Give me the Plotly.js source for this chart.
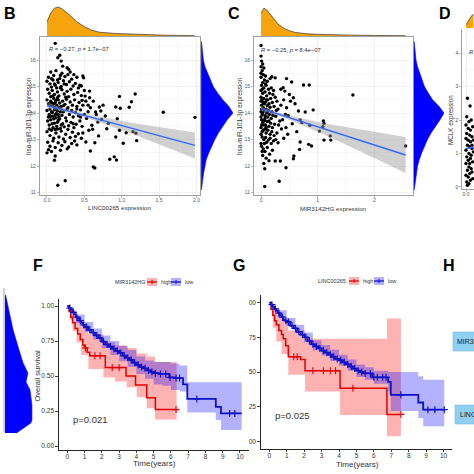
<!DOCTYPE html>
<html><head><meta charset="utf-8">
<script src="https://cdn.plot.ly/plotly-3.0.1.min.js"></script>
<style>html,body{margin:0;padding:0;background:#fff;overflow:hidden}#chart{width:474px;height:474px}</style>
</head><body><div id="chart"></div>
<script>
// ---------- Panel B: LINC00265 vs hsa-miR-101-3p ----------
const bX = [
0.11,0.145,0.244,1.556,1.98,0.97,1.18,1.13,1.10,0.92,
0.98,0.94,0.97,0.92,1.02,1.06,1.15,1.19,1.20,0.84,
0.90,0.93,0.62,0.64,0.58,0.57,0.57,0.78,0.72,0.70,
0.65,0.60,0.61,0.68,0.80,0.82,0.73,0.69,0.64,0.52,
0.49,0.48,0.46,0.51,0.29,0.27,0.19,0.17,0.145,0.21,
0.11,0.10,0.0,0.05,0.12,0.20,0.28,0.02,0.09,0.17,
0.24,0.33,0.40,0.0,0.04,0.08,0.11,0.15,0.19,0.22,
0.26,0.30,0.35,0.38,0.44,0.06,0.13,0.01,0.03,0.07,
0.10,0.14,0.16,0.20,0.23,0.27,0.29,0.32,0.36,0.41,
0.46,0.50,0.05,0.18,0.25,0.0,0.02,0.05,0.07,0.09,
0.11,0.13,0.15,0.17,0.19,0.21,0.24,0.26,0.28,0.31,
0.34,0.37,0.40,0.43,0.48,0.52,0.10,0.14,0.22,0.0,
0.03,0.04,0.06,0.08,0.10,0.12,0.14,0.16,0.18,0.20,
0.22,0.25,0.27,0.30,0.33,0.35,0.38,0.42,0.45,0.50,
0.55,0.12,0.02,0.01,0.03,0.05,0.08,0.10,0.13,0.15,
0.18,0.21,0.23,0.26,0.29,0.32,0.36,0.39,0.44,0.47,
0.07,0.17,0.0,0.04,0.06,0.09,0.12,0.16,0.19,0.22,
0.25,0.28,0.31,0.34,0.38,0.42,0.46,0.14,0.01,0.04,
0.08,0.11,0.15,0.20,0.24,0.29,0.33,0.40,0.02,0.06,
0.06,0.08,0.12,0.16,0.04,0.09,0.13,0.18,0.07,0.11,
0.15,0.05,0.09,0.14,0.19,0.03,0.11,0.06,0.14,0.10,
0.18,0.23,0.31,0.36,0.42,0.47,0.55,0.53,0.56,0.48,
0.37,0.27,0.18,0.35,0.40,0.45,0.58,0.62,0.66,0.75];
const bY = [
16.63,11.28,11.45,14.03,13.84,14.63,14.72,14.43,14.22,14.23,
14.18,13.79,13.35,13.10,12.86,13.26,13.30,13.24,12.96,12.26,
12.35,12.23,11.97,11.93,12.57,14.83,14.58,13.89,14.08,14.23,
14.04,13.54,13.39,13.66,13.41,13.61,13.76,13.14,12.88,12.91,
15.33,15.40,15.02,14.64,15.65,15.71,15.96,16.18,16.09,15.77,
12.38,12.22,12.50,15.55,15.60,15.50,15.45,15.35,15.42,15.30,
15.38,15.28,15.35,15.20,15.10,15.25,15.05,15.15,15.00,15.22,
15.08,15.18,15.02,15.12,15.05,14.98,14.95,14.90,14.75,14.85,
14.70,14.80,14.65,14.88,14.72,14.82,14.62,14.90,14.70,14.78,
14.66,14.85,14.62,14.95,14.60,14.50,14.35,14.45,14.28,14.55,
14.40,14.30,14.50,14.38,14.25,14.45,14.33,14.52,14.20,14.42,
14.30,14.50,14.25,14.40,14.30,14.45,14.22,14.58,14.28,14.10,
13.95,14.15,14.05,13.88,14.12,13.98,14.08,13.85,14.18,13.92,
14.05,13.82,14.15,13.95,14.10,13.85,14.02,13.90,14.12,13.95,
14.05,13.82,13.85,13.70,13.55,13.75,13.45,13.62,13.50,13.72,
13.42,13.60,13.48,13.70,13.52,13.65,13.45,13.58,13.70,13.50,
13.60,13.78,13.30,13.15,13.35,13.05,13.25,13.10,13.32,13.02,
13.20,13.38,13.08,13.28,13.12,13.22,13.05,13.40,12.90,12.75,
12.95,12.70,12.88,12.78,12.92,12.72,12.85,12.80,12.62,12.55,
14.40,14.65,14.48,14.22,14.28,14.35,14.15,14.05,14.02,13.92,
13.95,13.88,13.78,13.65,13.55,13.40,13.38,15.30,15.25,15.10,
15.42,15.10,15.55,15.45,14.95,14.48,14.30,13.80,13.35,13.25,
12.95,12.65,12.60,13.60,14.15,13.85,14.20,14.45,13.95,14.30];
const bFitX = [0,0.25,0.5,0.75,1.0,1.25,1.5,1.75,1.98];
const bFitY = [14.29,14.10,13.91,13.72,13.53,13.34,13.15,12.95,12.78];
const bFitUp = [14.40,14.17,13.98,13.83,13.70,13.58,13.47,13.36,13.27];
const bFitLo = [14.18,14.03,13.84,13.61,13.36,13.10,12.83,12.54,12.29];
const bTopX = [0,0.05,0.1,0.15,0.2,0.25,0.3,0.35,0.4,0.5,0.6,0.7,0.8,0.9,1.0,1.1,1.2,1.4,1.6,1.8,1.98];
const bTopD = [0.49,0.79,0.96,1.0,0.94,0.85,0.73,0.61,0.49,0.32,0.2,0.13,0.1,0.09,0.08,0.07,0.05,0.035,0.025,0.02,0.01];
const sideY = [16.7,16.4,16.0,15.75,15.5,15.25,15.0,14.75,14.5,14.25,14.0,13.75,13.5,13.25,13.0,12.75,12.5,12.25,12.0,11.75,11.5,11.25,11.1];
const bSideD = [0.01,0.03,0.07,0.12,0.2,0.28,0.38,0.52,0.68,0.87,1.0,0.82,0.68,0.54,0.43,0.33,0.24,0.16,0.11,0.08,0.05,0.03,0.01];

// ---------- Panel C: MIR3142HG vs hsa-miR-101-3p ----------
const cX = [
0,0,0.01,0.065,0.32,0.065,0.44,1.62,2.55,0.75,
0.85,0.54,0.45,0.92,1.10,1.11,1.09,1.03,1.11,1.23,
1.22,0.86,0.84,0.89,0.69,0.68,0.58,0.57,0.25,0.34,
0.72,0.69,0.78,0.66,0.57,0.52,0.42,0.39,0.25,0.19,
0.16,0.0,0.02,0.04,0.0,0.06,0.03,0.08,0.11,0.01,
0.05,0.09,0.13,0.0,0.03,0.07,0.10,0.15,0.18,0.22,
0.0,0.02,0.05,0.08,0.12,0.14,0.17,0.20,0.25,0.28,
0.01,0.04,0.06,0.09,0.11,0.13,0.16,0.19,0.23,0.30,
0.0,0.02,0.05,0.07,0.10,0.12,0.15,0.18,0.21,0.26,
0.01,0.03,0.06,0.08,0.11,0.14,0.17,0.20,0.24,0.33,
0.0,0.04,0.07,0.09,0.12,0.16,0.19,0.23,0.28,0.36,
0.02,0.05,0.08,0.10,0.13,0.18,0.22,0.30,0.40,0.47,
0.01,0.04,0.07,0.11,0.15,0.20,0.03,0.09,0.14,0.05,
0.35,0.40,0.45,0.48,0.55,0.38,0.44,0.50,0.60,0.63,
0.02,0.04,0.06,0.03,0.07,0.05,0.02,0.08,0.10,0.12,
0.14,0.09,0.16,0.06,0.27,0.31,0.26,0.21,0.35,0.43,
0.00,0.01,0.00,0.01,0.00,0.00,0.02,0.03,0.05,0.00];
const cY = [
16.55,16.15,15.96,11.23,11.43,11.90,11.94,14.68,12.76,15.06,
15.06,15.17,15.30,14.12,13.70,13.61,13.49,13.32,12.98,12.98,
13.14,13.54,12.82,12.76,12.91,12.63,12.38,12.28,12.19,12.19,
13.64,13.74,14.04,14.08,14.58,14.45,14.83,14.96,15.33,15.37,
15.30,15.75,15.60,15.45,15.35,15.25,15.15,15.40,15.20,15.05,
14.95,15.05,14.90,14.85,14.75,14.80,14.65,14.75,14.95,14.85,
14.60,14.50,14.55,14.42,14.50,14.35,14.55,14.40,14.60,14.45,
14.30,14.20,14.35,14.15,14.28,14.10,14.22,14.05,14.25,14.15,
14.05,13.95,14.08,13.90,14.00,13.85,13.95,13.80,13.92,13.88,
13.75,13.65,13.72,13.55,13.68,13.50,13.62,13.45,13.58,13.70,
13.45,13.35,13.40,13.25,13.35,13.20,13.30,13.15,13.25,13.40,
13.10,13.00,13.08,12.90,12.98,12.85,12.95,12.88,13.05,13.20,
12.75,12.65,12.55,12.70,12.45,12.60,12.40,12.30,12.20,12.10,
14.90,14.50,14.20,13.90,13.60,13.75,13.45,14.70,14.35,13.30,
14.90,14.40,14.15,14.00,13.80,13.55,13.30,15.10,14.50,14.05,
13.70,13.45,13.05,12.85,14.10,13.55,13.00,14.70,14.30,13.95,
14.45,14.15,13.85,13.55,13.20,12.85,12.55,15.85,15.70,15.50];
const cFitX = [0,0.25,0.5,0.75,1.0,1.25,1.5,1.75,2.0,2.25,2.55];
const cFitY = [14.17,14.0,13.83,13.66,13.48,13.31,13.14,12.97,12.80,12.63,12.42];
const cFitUp = [14.25,14.06,13.91,13.78,13.66,13.56,13.47,13.38,13.30,13.21,13.10];
const cFitLo = [14.09,13.94,13.75,13.54,13.30,13.06,12.81,12.56,12.30,12.05,11.74];
const cTopX = [0,0.05,0.1,0.15,0.2,0.3,0.4,0.5,0.6,0.8,1.0,1.3,1.6,2.0,2.3,2.55];
const cTopD = [0.82,1.0,0.94,0.82,0.67,0.43,0.28,0.19,0.13,0.08,0.06,0.04,0.03,0.02,0.015,0.01];
const cSideD = [0.01,0.03,0.07,0.12,0.2,0.27,0.35,0.48,0.62,0.84,1.0,0.87,0.72,0.57,0.45,0.35,0.26,0.18,0.12,0.09,0.06,0.03,0.01];

// ---------- Panel D (partly visible) ----------
const dX = [0.02,0.055,0.01,0.04,0.07,0.0,0.03,0.06,0.09,0.01,0.05,0.08,0.0,0.03,0.06,0.1,0.02,0.05,0.08,0.0,0.04,0.07,0.1,0.01,0.03,0.06,0.09,0.0,0.04,0.07,0.02,0.05,0.08,0.0,0.03,0.06,0.01,0.04,0.09,0.02,0.05,0.08];
const dY = [2.65,2.42,2.1,1.95,2.0,1.85,1.75,1.7,1.8,1.6,1.55,1.5,1.45,1.4,1.35,1.4,1.25,1.2,1.15,1.1,1.0,0.95,1.05,0.9,0.8,0.85,0.75,0.7,0.6,0.55,0.5,0.4,0.45,0.35,0.3,0.2,0.15,0.1,0.25,0.05,0.7,1.25];
const dFitX = [0,0.11];
const dFitY = [1.15,1.19];
const dTopX = [0,0.02,0.04,0.06,0.08,0.1];
const dTopD = [0.25,0.45,0.65,0.82,0.95,1.0];

// ---------- Remnant of panel E marginal density (left edge) ----------
const eY = [9.66,8.62,7.24,5.86,4.97,4.28,3.66,3.1,2.07,1.03,0.83,0.14];
const eD = [0.02,0.15,0.3,0.52,0.67,0.85,0.78,0.93,1.0,1.0,0.96,0.43];

// ---------- Panel F: MIR3142HG survival ----------
const fRedT = [0,0.1,0.2,0.3,0.45,0.6,0.75,0.9,1.0,1.15,1.3,2.2,3.4,3.95,4.6,5.1,6.3];
const fRedS = [1,0.96,0.92,0.88,0.84,0.80,0.76,0.72,0.70,0.67,0.645,0.56,0.50,0.435,0.345,0.26,0.26];
const fRedBandT = [0,0.15,0.3,0.54,0.8,1.22,2.09,2.76,3.44,4.02,4.6,5.08,6.33];
const fRedUp = [1,0.99,0.97,0.9,0.86,0.80,0.74,0.72,0.70,0.66,0.64,0.60,0.60];
const fRedLo = [1,0.9,0.82,0.74,0.65,0.55,0.49,0.46,0.42,0.35,0.27,0.19,0.11];
const fBlueT = [0,0.1,0.2,0.3,0.4,0.5,0.6,0.7,0.8,0.9,1.0,1.2,1.4,1.6,1.8,2.0,2.2,2.4,2.6,2.8,3.0,3.2,3.4,3.6,3.8,4.0,4.2,4.4,4.6,4.8,5.0,5.3,5.6,5.9,6.2,6.7,6.95,8.6,8.9,10.1];
const fBlueS = [1,0.985,0.97,0.955,0.94,0.92,0.91,0.895,0.88,0.865,0.85,0.83,0.81,0.79,0.77,0.745,0.725,0.71,0.695,0.68,0.665,0.645,0.63,0.615,0.595,0.58,0.565,0.555,0.54,0.53,0.52,0.515,0.515,0.49,0.485,0.44,0.336,0.28,0.233,0.233];
const fBlueBandT = [0,0.5,1.0,1.5,2.0,2.5,3.0,3.5,4.0,4.5,5.0,5.5,6.0,6.5,6.95,8.6,8.9,10.1];
const fBlueUp = [1.0,0.94,0.885,0.84,0.79,0.75,0.715,0.685,0.64,0.61,0.60,0.60,0.59,0.575,0.455,0.455,0.455,0.455];
const fBlueLo = [1.0,0.88,0.815,0.76,0.70,0.65,0.605,0.565,0.515,0.48,0.44,0.43,0.40,0.39,0.24,0.185,0.114,0.114];
const fRedCensT = [1.05,1.6,1.9,2.6,3.0,6.3];
const fRedCensS = [0.70,0.645,0.645,0.56,0.56,0.26];
const fBlueCensT = [0.15,0.35,0.55,0.75,0.95,1.1,1.3,1.5,1.7,1.9,2.1,2.3,2.5,2.7,2.9,3.1,3.3,3.5,3.7,3.9,4.1,4.3,4.5,4.7,4.9,5.1,5.4,5.7,5.95,6.3,6.5,7.5,9.4,9.7];
const fBlueCensS = [0.985,0.955,0.92,0.895,0.865,0.85,0.83,0.81,0.79,0.77,0.745,0.725,0.71,0.695,0.68,0.665,0.645,0.63,0.615,0.595,0.58,0.565,0.555,0.54,0.53,0.52,0.515,0.515,0.49,0.485,0.485,0.336,0.233,0.233];

// ---------- Panel G: LINC00265 survival ----------
const gRedT = [0,0.1,0.2,0.3,0.4,0.55,0.7,0.8,0.94,1.09,1.8,2.05,4.06,6.75,7.55];
const gRedS = [1,0.95,0.91,0.87,0.84,0.80,0.77,0.74,0.69,0.61,0.59,0.51,0.383,0.195,0.195];
const gRedBandT = [0,0.2,0.4,0.7,1.09,2.05,4.06,6.75,7.55];
const gRedUp = [1,0.97,0.93,0.88,0.80,0.74,0.74,0.885,0.885];
const gRedLo = [1,0.82,0.72,0.63,0.48,0.36,0.19,0.038,0.038];
const gBlueT = [0,0.1,0.2,0.3,0.4,0.5,0.6,0.7,0.8,0.9,1.0,1.2,1.4,1.6,1.8,2.0,2.2,2.4,2.6,2.8,3.0,3.2,3.4,3.6,3.8,4.0,4.2,4.4,4.6,4.8,5.0,5.2,5.4,5.7,5.9,6.4,6.82,6.97,8.55,8.83,10.04];
const gBlueS = [1,0.985,0.97,0.955,0.94,0.925,0.91,0.895,0.88,0.87,0.86,0.835,0.815,0.79,0.77,0.75,0.725,0.70,0.685,0.67,0.655,0.64,0.625,0.61,0.595,0.585,0.57,0.555,0.54,0.525,0.51,0.50,0.49,0.49,0.462,0.462,0.43,0.336,0.281,0.229,0.229];
const gBlueBandT = [0,0.5,1.0,1.5,2.0,2.5,3.0,3.5,4.0,4.5,5.0,5.5,6.0,6.5,6.82,6.97,8.55,8.83,10.04];
const gBlueUp = [1.0,0.945,0.89,0.84,0.785,0.73,0.695,0.66,0.625,0.59,0.555,0.535,0.51,0.51,0.50,0.50,0.47,0.445,0.445];
const gBlueLo = [1.0,0.895,0.83,0.78,0.715,0.655,0.62,0.58,0.545,0.51,0.465,0.445,0.415,0.415,0.36,0.22,0.17,0.11,0.11];
const gRedCensT = [1.4,1.6,2.5,3.1,3.5,3.8,4.8,7.55];
const gRedCensS = [0.61,0.61,0.51,0.51,0.51,0.51,0.383,0.195];
const gBlueCensT = [0.15,0.35,0.55,0.75,0.95,1.1,1.3,1.5,1.7,1.9,2.1,2.3,2.5,2.7,2.9,3.1,3.3,3.5,3.7,3.9,4.1,4.3,4.5,4.7,4.9,5.1,5.3,5.5,5.8,6.0,6.2,6.5,6.7,7.55,9.1,9.5,10.04];
const gBlueCensS = [0.985,0.955,0.925,0.895,0.87,0.86,0.835,0.815,0.79,0.77,0.75,0.725,0.70,0.685,0.67,0.655,0.64,0.625,0.61,0.595,0.585,0.57,0.555,0.54,0.525,0.51,0.50,0.49,0.49,0.462,0.462,0.462,0.462,0.336,0.229,0.229,0.229];

const survTicks = [0,0.25,0.5,0.75,1];
const gTickText = ['00','25','50','75','00'];
const timeTicks = [0,1,2,3,4,5,6,7,8,9,10];

// ---------- helpers ----------
const W = 474, H = 474;
const dx = (a,b) => [a/W, b/W];
const dy = (top,bottom) => [1-bottom/H, 1-top/H];
const FONT = '"Liberation Sans", Arial, sans-serif';
const ORANGE = '#F6A40C', BLUE = '#0000FF';
const RED_L = '#E00000', BLUE_L = '#1010C8';
const RED_F = 'rgba(255,0,0,0.3)', BLUE_F = 'rgba(0,0,255,0.3)';

function sAx(dom, range, anchor, extra){
  return Object.assign({domain:dom, range:range, anchor:anchor, showline:true, mirror:true,
    linecolor:'#8a8a8a', linewidth:0.8, ticks:'outside', ticklen:2, tickwidth:0.6, tickcolor:'#8a8a8a',
    tickfont:{size:5, color:'#555', family:FONT}, showgrid:true, gridcolor:'#E6E6E6', gridwidth:0.6,
    zeroline:false, fixedrange:true}, extra||{});
}
function hid(dom, range, anchor){
  return {domain:dom, range:range, anchor:anchor, visible:false, fixedrange:true};
}
function kAx(dom, range, anchor, extra){
  return Object.assign({domain:dom, range:range, anchor:anchor, showline:true, linecolor:'#111',
    linewidth:0.9, ticks:'outside', ticklen:2.5, tickwidth:0.8, tickcolor:'#111',
    tickfont:{size:6.5, color:'#333', family:FONT}, showgrid:false, zeroline:false, fixedrange:true}, extra||{});
}

const traces = [];
function scatterPanel(xs, ys, fx, fy, fu, fl, xa, ya){
  traces.push({x:xs, y:ys, mode:'markers', marker:{color:'#000', size:3.4}, xaxis:xa, yaxis:ya});
  traces.push({x:fx, y:fu, mode:'lines', line:{width:0, color:'rgba(0,0,0,0)'}, xaxis:xa, yaxis:ya});
  traces.push({x:fx, y:fl, mode:'lines', line:{width:0, color:'rgba(0,0,0,0)'}, fill:'tonexty', fillcolor:'rgba(150,150,150,0.45)', xaxis:xa, yaxis:ya});
  traces.push({x:fx, y:fy, mode:'lines', line:{width:1.4, color:'#3366FF'}, xaxis:xa, yaxis:ya});
}
scatterPanel(bX,bY,bFitX,bFitY,bFitUp,bFitLo,'x','y');
traces.push({x:bTopX, y:bTopD, mode:'lines', fill:'tozeroy', fillcolor:ORANGE, line:{color:'#333', width:0.7}, xaxis:'x2', yaxis:'y2'});
traces.push({x:bSideD, y:sideY, mode:'lines', fill:'tozerox', fillcolor:BLUE, line:{color:BLUE, width:0.6}, xaxis:'x3', yaxis:'y3'});
scatterPanel(cX,cY,cFitX,cFitY,cFitUp,cFitLo,'x4','y4');
traces.push({x:cTopX, y:cTopD, mode:'lines', fill:'tozeroy', fillcolor:ORANGE, line:{color:'#333', width:0.7}, xaxis:'x5', yaxis:'y5'});
traces.push({x:cSideD, y:sideY, mode:'lines', fill:'tozerox', fillcolor:BLUE, line:{color:BLUE, width:0.6}, xaxis:'x6', yaxis:'y6'});
traces.push({x:dX, y:dY, mode:'markers', marker:{color:'#000', size:3.4}, xaxis:'x7', yaxis:'y7'});
traces.push({x:dFitX, y:dFitY, mode:'lines', line:{width:1.4, color:'#3366FF'}, xaxis:'x7', yaxis:'y7'});
traces.push({x:dTopX, y:dTopD, mode:'lines', fill:'tozeroy', fillcolor:ORANGE, line:{color:'#333', width:0.7}, xaxis:'x8', yaxis:'y8'});

function survPanel(xa, ya, rbT, rU, rL, bbT, bU, bL, rT, rS, bT, bS, rcT, rcS, bcT, bcS){
  traces.push({x:rbT, y:rU, mode:'lines', line:{width:0, shape:'hv', color:'rgba(0,0,0,0)'}, xaxis:xa, yaxis:ya});
  traces.push({x:rbT, y:rL, mode:'lines', line:{width:0, shape:'hv', color:'rgba(0,0,0,0)'}, fill:'tonexty', fillcolor:RED_F, xaxis:xa, yaxis:ya});
  traces.push({x:bbT, y:bU, mode:'lines', line:{width:0, shape:'hv', color:'rgba(0,0,0,0)'}, xaxis:xa, yaxis:ya});
  traces.push({x:bbT, y:bL, mode:'lines', line:{width:0, shape:'hv', color:'rgba(0,0,0,0)'}, fill:'tonexty', fillcolor:BLUE_F, xaxis:xa, yaxis:ya});
  traces.push({x:rT, y:rS, mode:'lines', line:{width:1.5, shape:'hv', color:RED_L}, xaxis:xa, yaxis:ya});
  traces.push({x:bT, y:bS, mode:'lines', line:{width:1.8, shape:'hv', color:BLUE_L}, xaxis:xa, yaxis:ya});
  traces.push({x:rcT, y:rcS, mode:'markers', marker:{symbol:'cross-thin-open', size:5, color:RED_L, line:{width:1.1, color:RED_L}}, xaxis:xa, yaxis:ya});
  traces.push({x:bcT, y:bcS, mode:'markers', marker:{symbol:'cross-thin-open', size:5, color:BLUE_L, line:{width:1.2, color:BLUE_L}}, xaxis:xa, yaxis:ya});
}
survPanel('x9','y9',fRedBandT,fRedUp,fRedLo,fBlueBandT,fBlueUp,fBlueLo,fRedT,fRedS,fBlueT,fBlueS,fRedCensT,fRedCensS,fBlueCensT,fBlueCensS);
survPanel('x10','y10',gRedBandT,gRedUp,gRedLo,gBlueBandT,gBlueUp,gBlueLo,gRedT,gRedS,gBlueT,gBlueS,gRedCensT,gRedCensS,gBlueCensT,gBlueCensS);
traces.push({x:eD, y:eY, mode:'lines', fill:'tozerox', fillcolor:BLUE, line:{color:BLUE, width:0.6}, xaxis:'x11', yaxis:'y11'});

// scatter geometry
const bXR = [-0.0975, 2.05], scYR = [10.91, 16.87];
const cXR = [-0.1275, 2.68];
const layout = {
  width:W, height:H, margin:{l:0,r:0,t:0,b:0}, paper_bgcolor:'#fff', plot_bgcolor:'rgba(0,0,0,0)',
  showlegend:false, font:{family:FONT, color:'#333'},
  xaxis: sAx(dx(39.7,200.2), bXR, 'y', {tickvals:[0,0.5,1,1.5,2], tickformat:'.1f', ticklabelstandoff:-2, minor:{tickvals:[0.25,0.75,1.25,1.75], showgrid:true, gridcolor:'#F3F3F3', ticks:''}}),
  yaxis: sAx(dy(37,195), scYR, 'x', {tickvals:[11,12,13,14,15,16], minor:{tickvals:[11.5,12.5,13.5,14.5,15.5,16.5], showgrid:true, gridcolor:'#F3F3F3', ticks:''}}),
  xaxis2: hid(dx(39.7,200.2), bXR, 'y2'),
  yaxis2: hid(dy(5,36), [0,1.07], 'x2'),
  xaxis3: hid(dx(200.2,233), [-0.03,1.0], 'y3'),
  yaxis3: hid(dy(37,195), scYR, 'x3'),
  xaxis4: sAx(dx(253.8,413), cXR, 'y4', {tickvals:[0,1,2], ticklabelstandoff:-2, minor:{tickvals:[0.5,1.5,2.5], showgrid:true, gridcolor:'#F3F3F3', ticks:''}}),
  yaxis4: sAx(dy(37,195), scYR, 'x4', {tickvals:[11,12,13,14,15,16], minor:{tickvals:[11.5,12.5,13.5,14.5,15.5,16.5], showgrid:true, gridcolor:'#F3F3F3', ticks:''}}),
  xaxis5: hid(dx(253.8,413), cXR, 'y5'),
  yaxis5: hid(dy(6,36), [0,1.08], 'x5'),
  xaxis6: hid(dx(413,444), [-0.03,1.0], 'y6'),
  yaxis6: hid(dy(37,195), scYR, 'x6'),
  xaxis7: sAx(dx(462,474), [-0.054,0.108], 'y7', {tickvals:[0], tickformat:'.1f', mirror:false, ticklabelstandoff:-2}),
  yaxis7: sAx(dy(29,189), [-0.06,4.72], 'x7', {tickvals:[0,1,2,3,4], minor:{tickvals:[0.5,1.5,2.5,3.5,4.5], showgrid:true, gridcolor:'#F3F3F3', ticks:''}}),
  xaxis8: hid(dx(462,474), [-0.054,0.108], 'y8'),
  yaxis8: hid(dy(14,28), [0,1.05], 'x8'),
  xaxis9: kAx(dx(58.7,248.6), [-0.5,10.5], 'y9', {tickvals:timeTicks, ticklabelstandoff:-2}),
  yaxis9: kAx(dy(299,450), [-0.0286,1.05], 'x9', {tickvals:survTicks, tickformat:'.2f'}),
  xaxis10: kAx(dx(260.6,452.3), [-0.5,10.5], 'y10', {tickvals:timeTicks, ticklabelstandoff:-2}),
  yaxis10: kAx(dy(295,449), [-0.054,1.055], 'x10', {tickvals:survTicks, ticktext:gTickText}),
  xaxis11: hid(dx(5,33), [0,1.04], 'y11'),
  yaxis11: hid(dy(290,435), [0,10], 'x11'),
  shapes: [],
  annotations: []
};

function ann(text, x, y, size, opts){
  layout.annotations.push(Object.assign({text:text, x:x/W, y:1-y/H, xref:'paper', yref:'paper', showarrow:false,
    xanchor:'center', yanchor:'middle', font:{size:size, color:'#333', family:FONT}}, opts||{}));
}
function rect(x0,y0,x1,y1,fill,lineColor,lw){
  layout.shapes.push({type:'rect', xref:'paper', yref:'paper', x0:x0/W, x1:x1/W, y0:1-y1/H, y1:1-y0/H,
    fillcolor:fill, line:{color:lineColor||'rgba(0,0,0,0)', width:lw||0}, layer:'above'});
}
function seg(x0,y0,x1,y1,color,lw){
  layout.shapes.push({type:'line', xref:'paper', yref:'paper', x0:x0/W, x1:x1/W, y0:1-y0/H, y1:1-y1/H,
    line:{color:color, width:lw}, layer:'above'});
}

// panel letters
const L = {size:16, color:'#000', family:'"Liberation Sans", Arial, sans-serif'};
[['B',9.5,14],['C',234,14],['D',445,13],['F',38,265],['G',239,265],['H',449,265]].forEach(p=>{
  ann('<b>'+p[0]+'</b>', p[1], p[2], 16, {font:L});
});
// scatter texts
ann('<i>R</i> = \u22120.27, <i>p</i> = 1.7e\u221207', 47, 49, 5.8, {xanchor:'left'});
ann('<i>R</i> = \u22120.25, <i>p</i> = 8.4e\u221207', 259, 50, 5.8, {xanchor:'left'});
ann('<i>R</i> = 0.31', 467, 52, 5.8, {xanchor:'left'});
ann('LINC00265 expression', 120, 207.5, 6.2);
ann('MIR3142HG expression', 333, 208, 6.2);
ann('hsa-miR-101-3p expression', 29, 116, 6.3, {textangle:-90});
ann('hsa-miR-101-3p expression', 240, 116, 6.3, {textangle:-90});
ann('MCLK expression', 451, 120, 6.3, {textangle:-90});
// survival texts
ann('Overall survival', 36.5, 376, 7.5, {textangle:-90});
ann('Time(years)', 154, 463, 8);
ann('Time(years)', 357, 464, 8);
ann('p=0.021', 70.5, 419, 9.5, {xanchor:'left'});
ann('p=0.025', 272.5, 415, 9.5, {xanchor:'left'});
// legends
function legend(title, xt, xr, xb, y){
  ann(title, xt, y, 5.5, {xanchor:'left'});
  rect(xr, y-4, xr+10, y+4, RED_F);
  seg(xr, y, xr+10, y, RED_L, 1.3); seg(xr+5, y-2, xr+5, y+2, RED_L, 1);
  ann('high', xr+12, y, 5.5, {xanchor:'left'});
  rect(xb, y-4, xb+10, y+4, BLUE_F);
  seg(xb, y, xb+10, y, BLUE_L, 1.3); seg(xb+5, y-2, xb+5, y+2, BLUE_L, 1);
  ann('low', xb+12, y, 5.5, {xanchor:'left'});
}
legend('MIR3142HG', 113, 147, 171, 282);
legend('LINC00265', 316, 349, 374, 281);
// panel H boxes
rect(453, 332, 480, 351, '#8FCFEF', '#79BDE0', 0.6);
rect(455, 405, 480, 424, '#8FCFEF', '#79BDE0', 0.6);
ann('MIR3142HG', 454.5, 341.5, 7, {xanchor:'left', font:{size:7, color:'#222', family:FONT}});
ann('LINC00265', 458, 414.5, 7, {xanchor:'left', font:{size:7, color:'#222', family:FONT}});
// panel E border remnant
seg(4, 288, 4, 432, '#8a8a8a', 0.8);

Plotly.newPlot('chart', traces, layout, {staticPlot:true, displayModeBar:false});
</script></body></html>
